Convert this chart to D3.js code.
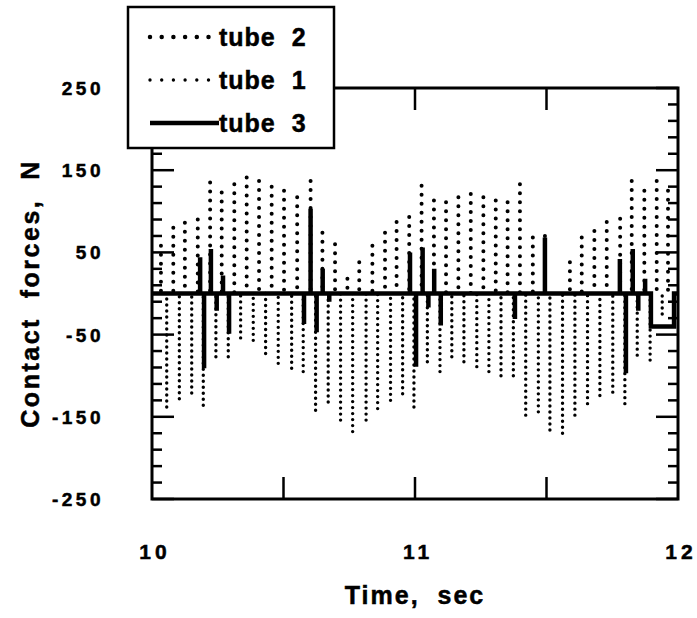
<!DOCTYPE html>
<html>
<head>
<meta charset="utf-8">
<script src="https://cdn.jsdelivr.net/npm/d3@7"></script>
<style>
  body { margin: 0; background: #fff; }
  text { font-family: "Liberation Sans", Arial, sans-serif; font-weight: bold; fill: #000; stroke: #000; stroke-width: 0.5; white-space: pre; }
</style>
</head>
<body>
<div id="contact-plot"></div>
<script>
const wPlot = 697
const hPlot = 618

// plot frame edges
const leftEdge = 152
const rightEdge = 678
const topEdge = 88
const bottomEdge = 499

// --- Data ---

// tube 2 dotted columns: [time s, peak force N]
const tube2 = [
  [10.034, 58], [10.081, 80], [10.125, 86], [10.174, 90], [10.221, 135], [10.265, 123],
  [10.313, 133], [10.360, 141], [10.407, 137], [10.455, 130], [10.502, 125], [10.552, 117],
  [10.603, 137], [10.648, 74], [10.696, 60], [10.743, 18], [10.788, 38], [10.838, 58],
  [10.886, 74], [10.930, 87], [10.978, 93], [11.025, 131], [11.072, 113], [11.118, 111],
  [11.165, 117], [11.212, 121], [11.260, 117], [11.307, 113], [11.352, 111], [11.399, 133],
  [11.448, 68], [11.494, 70], [11.589, 38], [11.634, 68], [11.682, 76], [11.729, 87],
  [11.780, 91], [11.824, 137], [11.872, 125], [11.919, 137], [11.962, 125]
]

// tube 1 dotted columns: [time s, peak force N]
const tube1 = [
  [10.056, -138], [10.104, -128], [10.151, -121], [10.195, -136], [10.243, -77], [10.290, -77],
  [10.337, -54], [10.385, -57], [10.432, -73], [10.480, -85], [10.531, -91], [10.575, -95],
  [10.622, -142], [10.670, -132], [10.717, -154], [10.763, -168], [10.814, -154], [10.858, -140],
  [10.907, -130], [10.953, -122], [10.996, -138], [11.047, -83], [11.095, -95], [11.140, -77],
  [11.186, -83], [11.235, -89], [11.281, -95], [11.327, -100], [11.374, -100], [11.421, -148],
  [11.469, -144], [11.513, -166], [11.561, -170], [11.608, -148], [11.656, -134], [11.703, -124],
  [11.752, -120], [11.798, -134], [11.845, -75], [11.894, -81], [11.940, -25]
]

// tube 3 spikes: [time s, force N]
const tube3 = [
  [10.183, 44], [10.198, -91], [10.224, 54], [10.246, -21], [10.270, 22], [10.293, -49],
  [10.578, -37], [10.603, 103], [10.626, -47], [10.649, 30], [10.674, -10],
  [10.981, 50], [11.004, -89], [11.029, 56], [11.051, -17], [11.073, 30], [11.098, -39],
  [11.380, -31], [11.494, 68],
  [11.779, 42], [11.802, -97], [11.828, 54], [11.849, -21], [11.875, 18]
]
// tube 3 step at the end: [start time, end time, force N]
const tube3Step = [11.897, 11.985, -40]

const xTickLabels = [10, 11, 12]
const xTicks = [10.5, 11, 11.5]
const yTickLabels = [250, 150, 50, -50, -150, -250]
const legendNames = ["tube  2", "tube  1", "tube  3"]

// --- Svg ---

const svg = d3.select("#contact-plot")
              .append("svg")
                .attr("width", wPlot)
                .attr("height", hPlot)

const xScale = d3.scaleLinear()
                  .domain([10, 12])
                  .range([leftEdge, rightEdge])

const yScale = d3.scaleLinear()
                  .domain([-250, 250])
                  .range([bottomEdge, topEdge])

// frame
svg.append("rect")
    .attr("x", leftEdge)
    .attr("y", topEdge)
    .attr("width", rightEdge - leftEdge)
    .attr("height", bottomEdge - topEdge)
    .attr("fill", "none")
    .attr("stroke", "#000")
    .attr("stroke-width", 3)

// y ticks every 20 N, long ones at the labelled values
const yTickVals = d3.range(-250, 251, 20)
const isMajor = v => yTickLabels.includes(v)

svg.append("g")
    .selectAll("line")
    .data(yTickVals)
    .join("line")
      .attr("x1", leftEdge)
      .attr("x2", d => leftEdge + (isMajor(d) ? 22 : 10))
      .attr("y1", d => yScale(d))
      .attr("y2", d => yScale(d))
      .attr("stroke", "#000")
      .attr("stroke-width", 2.5)

svg.append("g")
    .selectAll("line")
    .data(yTickVals)
    .join("line")
      .attr("x1", rightEdge)
      .attr("x2", d => rightEdge - (isMajor(d) ? 22 : 10))
      .attr("y1", d => yScale(d))
      .attr("y2", d => yScale(d))
      .attr("stroke", "#000")
      .attr("stroke-width", 2.5)

// x ticks, bottom and top
svg.append("g")
    .selectAll("line")
    .data(xTicks)
    .join("line")
      .attr("x1", d => xScale(d))
      .attr("x2", d => xScale(d))
      .attr("y1", bottomEdge)
      .attr("y2", bottomEdge - 22)
      .attr("stroke", "#000")
      .attr("stroke-width", 2.5)

svg.append("g")
    .selectAll("line")
    .data(xTicks)
    .join("line")
      .attr("x1", d => xScale(d))
      .attr("x2", d => xScale(d))
      .attr("y1", topEdge)
      .attr("y2", topEdge + 22)
      .attr("stroke", "#000")
      .attr("stroke-width", 2.5)

// tick labels
svg.append("g")
    .selectAll("text")
    .data(yTickLabels)
    .join("text")
      .attr("x", 104)
      .attr("y", d => yScale(d) + 7)
      .attr("text-anchor", "end")
      .attr("font-size", 19)
      .attr("letter-spacing", 3.5)
      .text(d => d)

svg.append("g")
    .selectAll("text")
    .data(xTickLabels)
    .join("text")
      .attr("x", d => xScale(d) + 3)
      .attr("y", 559)
      .attr("text-anchor", "middle")
      .attr("font-size", 21)
      .attr("letter-spacing", 4)
      .text(d => d)

// axis titles
svg.append("text")
    .attr("x", xScale(11))
    .attr("y", 604)
    .attr("text-anchor", "middle")
    .attr("font-size", 25)
    .attr("letter-spacing", 2)
    .text("Time,  sec")

svg.append("text")
    .attr("transform", `translate(39, ${yScale(0)}) rotate(-90)`)
    .attr("text-anchor", "middle")
    .attr("font-size", 25)
    .attr("letter-spacing", 2.5)
    .text("Contact  forces,  N")

// --- Dotted columns for tube 1 and tube 2 ---

const drawColumns = (data, width, gap) => {
  svg.append("g")
      .selectAll("line")
      .data(data)
      .join("line")
        .attr("x1", d => xScale(d[0]))
        .attr("x2", d => xScale(d[0]))
        .attr("y1", d => yScale(d[1]))
        .attr("y2", yScale(0))
        .attr("stroke", "#000")
        .attr("stroke-width", width)
        .attr("stroke-linecap", "round")
        .attr("stroke-dasharray", `0 ${gap}`)
}

drawColumns(tube2, 4, 9)
drawColumns(tube1, 3.4, 6)

// --- Tube 3 solid line ---

let tube3Points = [[10, 0]]
tube3.forEach(d => {
  tube3Points.push([d[0], 0], [d[0], d[1]], [d[0], 0])
})
tube3Points.push([tube3Step[0], 0], [tube3Step[0], tube3Step[2]],
                 [tube3Step[1], tube3Step[2]], [tube3Step[1], 0], [12, 0])

const tube3Line = d3.line()
                     .x(d => xScale(d[0]))
                     .y(d => yScale(d[1]))

svg.append("path")
    .attr("d", tube3Line(tube3Points))
    .attr("fill", "none")
    .attr("stroke", "#000")
    .attr("stroke-width", 4.5)

// --- Legend ---

const legend = svg.append("g")

legend.append("rect")
        .attr("x", 128)
        .attr("y", 7)
        .attr("width", 206)
        .attr("height", 141)
        .attr("fill", "#fff")
        .attr("stroke", "#000")
        .attr("stroke-width", 2.5)

const legendY = [37, 80, 123]
const legendStyles = [
  { width: 4.5, dash: "0 11.7" },
  { width: 3.4, dash: "0 11.7" },
  { width: 4.5, dash: null }
]

legendNames.forEach((name, i) => {
  legend.append("line")
          .attr("x1", 150)
          .attr("x2", legendStyles[i].dash ? 210 : 219)
          .attr("y1", legendY[i])
          .attr("y2", legendY[i])
          .attr("stroke", "#000")
          .attr("stroke-width", legendStyles[i].width)
          .attr("stroke-linecap", legendStyles[i].dash ? "round" : "butt")
          .attr("stroke-dasharray", legendStyles[i].dash)
  legend.append("text")
          .attr("x", 219)
          .attr("y", legendY[i] + 9)
          .attr("font-size", 25)
          .attr("letter-spacing", 1)
          .text(name)
})
</script>
</body>
</html>
